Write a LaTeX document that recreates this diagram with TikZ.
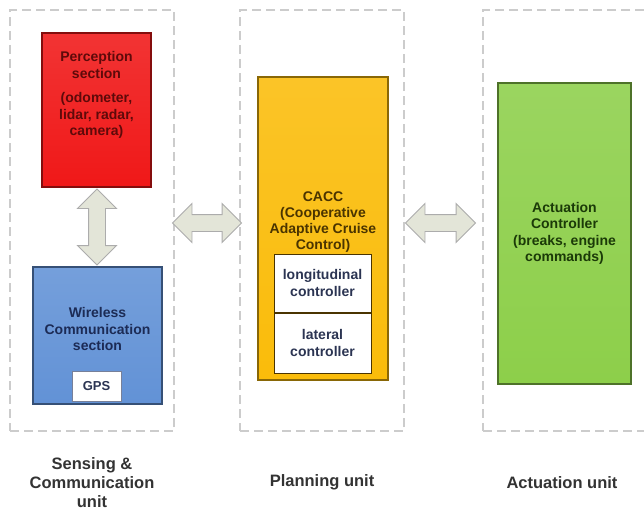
\documentclass[tikz,border=0pt]{standalone}
\usepackage{fontspec}
\setmainfont{Liberation Sans}
\usepackage{xcolor}
\usetikzlibrary{positioning,calc,shapes.arrows}

\definecolor{percred}{HTML}{F01818}
\definecolor{perctext}{HTML}{5E0A0A}
\definecolor{wirelessblue}{HTML}{6292D6}
\definecolor{wirelesstext}{HTML}{1C2B55}
\definecolor{caccorange}{HTML}{FABC0A}
\definecolor{cacctext}{HTML}{4A3400}
\definecolor{actgreen}{HTML}{8DCF4A}
\definecolor{acttext}{HTML}{1B3A08}
\definecolor{subtext}{HTML}{2B3452}
\definecolor{linkfill}{HTML}{E3E5D8}
\definecolor{captext}{HTML}{333333}

\begin{document}
\begin{tikzpicture}[x=1pt, y=-1pt,
  unit/.style={draw=gray!40, dash pattern=on 9pt off 5pt, line width=1.3pt,
               minimum width=164pt, minimum height=421pt, inner sep=0pt},
  block/.style={draw=#1!55!black, line width=1.1pt, top color=#1!88!white,
                bottom color=#1, inner sep=0pt},
  subbox/.style={draw=#1, line width=1pt, fill=white, inner sep=0pt},
  txt/.style={font=\bfseries\fontsize{14}{16.5}\selectfont, align=center, text=#1},
  link/.style={double arrow, draw=gray!65, fill=linkfill, line width=0.9pt,
               inner xsep=0pt, inner ysep=8pt, double arrow head extend=11pt,
               double arrow tip angle=90},
  caption/.style={font=\bfseries\fontsize{16.5}{19}\selectfont, align=center, text=captext}
]
  \clip (0,0) rectangle (644,511);
  \fill[white] (0,0) rectangle (644,511);

  % Three units
  \node[unit] (sensing) at (92,220.5) {};
  \node[unit] (planning) at (322,220.5) {};
  \node[unit] (actuation) at (565,220.5) {};

  % Sensing & communication
  \node[block=percred, minimum width=109pt, minimum height=154pt] (percept) at (96.5,110) {};
  \node[txt=perctext] (percept-txt) at (96.5,95)
    {Perception\\section\\[8pt](odometer,\\lidar, radar,\\camera)};
  \node[block=wirelessblue, minimum width=129pt, minimum height=137pt] (wireless) at (97.5,335.5) {};
  \node[txt=wirelesstext] (wireless-txt) at (97.5,329) {Wireless\\Communication\\section};
  \node[subbox=wirelesstext!60, txt=subtext, font=\bfseries\fontsize{13}{15}\selectfont,
        minimum width=49pt, minimum height=30pt] (gps) at (96.5,386) {GPS};

  % Planning
  \node[block=caccorange, minimum width=130pt, minimum height=303pt] (cacc) at (323,228.5) {};
  \node[txt=cacctext, font=\bfseries\fontsize{14}{16}\selectfont] (cacc-txt) at (323,222)
    {CACC\\(Cooperative\\Adaptive Cruise\\Control)};
  \node[subbox=cacctext, txt=subtext, minimum width=97pt, minimum height=58pt] (longi) at (322.5,283)
    {longitudinal\\controller};
  \node[subbox=cacctext, txt=subtext, minimum width=97pt, minimum height=60pt, below=0pt of longi] (lateral)
    {lateral\\controller};

  % Actuation
  \node[block=actgreen, txt=acttext, minimum width=133pt, minimum height=301pt] (actctrl) at (564.5,233.5)
    {Actuation\\Controller\\(breaks, engine\\commands)};

  % Links
  \node[link, rotate=90, minimum height=76pt] (link-pw) at ($(percept.south)!0.5!(wireless.north)$) {};
  \node[link, minimum height=69pt] (link-sp) at ($(sensing.east)!0.5!(planning.west)+(0,2.5)$) {};
  \node[link, minimum height=70pt] (link-pa) at ($(planning.east)!0.5!(actuation.west)+(-3,2.5)$) {};

  % Unit names
  \node[caption] (sensing-cap) at ($(sensing.south)+(0,51)$) {Sensing \&\\Communication\\unit};
  \node[caption] (planning-cap) at ($(planning.south)+(0,51)$) {Planning unit};
  \node[caption] (actuation-cap) at ($(actuation.south)+(-3,51)$) {Actuation unit};
\end{tikzpicture}
\end{document}
